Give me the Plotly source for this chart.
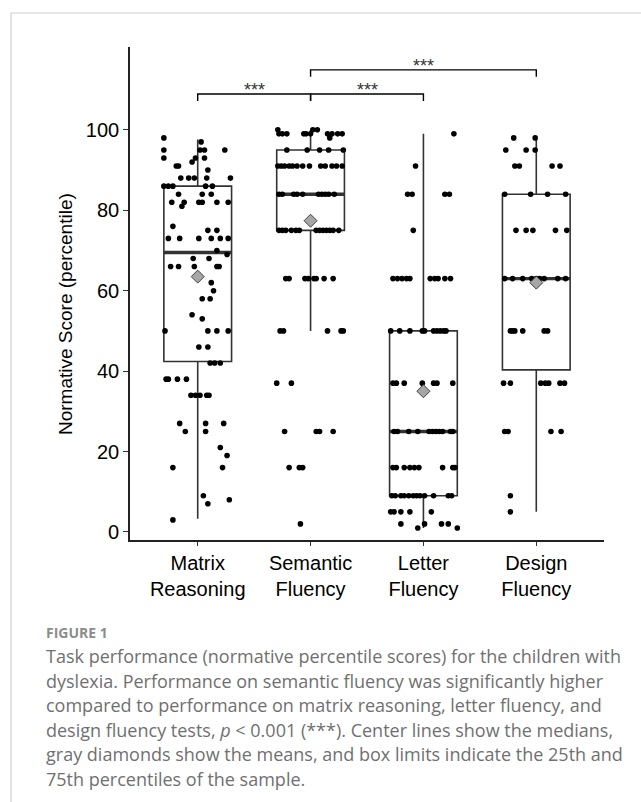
import plotly.graph_objects as go

# ---------------- data ----------------
tasks = ["Matrix<br>Reasoning", "Semantic<br>Fluency", "Letter<br>Fluency", "Design<br>Fluency"]

matrix_scores = [98, 97, 95, 95, 95, 95, 93, 93, 92, 93, 91, 91, 90, 88, 88, 88, 88, 88,
                 86, 86, 86, 86, 86, 84, 84, 84, 82, 81, 82, 82, 82, 82, 82, 76, 75, 75,
                 73, 73, 73, 73, 73, 73, 70, 69, 68, 68, 66, 66, 66, 66, 66, 62, 60, 58,
                 58, 54, 53, 50, 50, 50, 50, 46, 46, 42, 42, 42, 38, 38, 38, 38, 34, 34,
                 34, 34, 34, 27, 27, 27, 25, 25, 21, 19, 16, 16, 9, 8, 7, 3]
matrix_jitter = [-0.30, 0.03, -0.30, 0.02, 0.06, 0.24, -0.30, -0.02, -0.05, 0.06, -0.19, -0.17,
                 0.09, -0.15, -0.08, -0.03, 0.08, 0.29, -0.30, -0.26, -0.22, 0.07, 0.13, -0.17,
                 0.04, 0.12, -0.23, -0.14, -0.12, 0.01, 0.04, 0.17, 0.27, -0.22, 0.09, 0.17,
                 -0.26, -0.16, 0.01, 0.12, 0.20, 0.27, 0.17, 0.26, -0.04, 0.10, -0.24, -0.17,
                 -0.03, 0.17, 0.19, 0.12, 0.14, 0.04, 0.11, -0.05, 0.04, -0.29, 0.09, 0.17,
                 0.27, 0.01, 0.09, 0.11, 0.15, 0.20, -0.28, -0.26, -0.18, -0.10, -0.06, -0.02,
                 0.02, 0.08, 0.10, -0.16, 0.07, 0.23, -0.11, 0.07, 0.20, 0.26, -0.22, 0.22,
                 0.05, 0.28, 0.09, -0.22]

semantic_scores = ([100, 99, 99, 99, 99, 99, 99, 100, 100, 99, 98, 99, 99, 99]
                   + [95] * 5 + [91] * 13 + [84] * 10 + [75] * 13 + [63] * 8
                   + [50] * 5 + [37] * 2 + [25] * 4 + [16] * 3 + [2])
semantic_jitter = ([-0.29, -0.28, -0.25, -0.21, -0.06, -0.04, 0.00, 0.02, 0.06, 0.15, 0.17, 0.19, 0.24, 0.28]
                   + [-0.21, -0.03, 0.08, 0.16, 0.29]
                   + [-0.29, -0.26, -0.23, -0.19, -0.16, -0.12, -0.07, -0.01, 0.09, 0.13, 0.19, 0.23, 0.28]
                   + [-0.28, -0.25, -0.15, -0.12, -0.07, 0.07, 0.10, 0.13, 0.16, 0.21]
                   + [-0.28, -0.25, -0.22, -0.17, -0.13, -0.10, 0.05, 0.08, 0.11, 0.14, 0.17, 0.20, 0.25]
                   + [-0.22, -0.19, -0.05, -0.02, 0.03, 0.05, 0.12, 0.20]
                   + [-0.27, -0.24, 0.15, 0.27, 0.29]
                   + [-0.30, -0.17]
                   + [-0.23, 0.05, 0.08, 0.20]
                   + [-0.19, -0.10, -0.07]
                   + [-0.09])

letter_scores = ([99, 91] + [84] * 4 + [75] + [63] * 10 + [50] * 10 + [37] * 7 + [25] * 11
                 + [16] * 9 + [9] * 12 + [5] * 5 + [2] * 4 + [1] * 2)
letter_jitter = ([0.27, -0.07]
                 + [-0.14, -0.10, 0.19, 0.23]
                 + [-0.09]
                 + [-0.27, -0.23, -0.19, -0.15, -0.12, 0.06, 0.10, 0.13, 0.19, 0.24]
                 + [-0.29, -0.21, -0.12, -0.01, 0.01, 0.09, 0.12, 0.15, 0.18, 0.20]
                 + [-0.27, -0.24, -0.17, -0.01, 0.09, 0.12, 0.26]
                 + [-0.26, -0.23, -0.13, -0.05, 0.05, 0.08, 0.11, 0.14, 0.17, 0.24, 0.26]
                 + [-0.27, -0.24, -0.17, -0.12, -0.08, -0.04, 0.17, 0.26, 0.28]
                 + [-0.28, -0.25, -0.20, -0.17, -0.13, -0.09, -0.06, -0.03, 0.01, 0.09, 0.22, 0.25]
                 + [-0.29, -0.26, -0.20, -0.12, 0.07]
                 + [-0.20, 0.01, 0.16, 0.22]
                 + [-0.05, 0.30])

design_scores = ([98] * 2 + [95] * 3 + [91] * 4 + [84] * 4 + [75] * 5 + [63] * 9 + [50] * 6
                 + [37] * 7 + [25] * 4 + [9] + [5])
design_jitter = ([-0.20, -0.01]
                 + [-0.27, -0.09, -0.01]
                 + [-0.19, -0.15, 0.14, 0.21]
                 + [-0.28, -0.05, 0.10, 0.26]
                 + [-0.18, -0.09, -0.03, 0.17, 0.27]
                 + [-0.28, -0.21, -0.12, -0.04, 0.00, 0.03, 0.07, 0.19, 0.26]
                 + [-0.23, -0.21, -0.19, -0.12, 0.07, 0.10]
                 + [-0.29, -0.23, 0.04, 0.08, 0.11, 0.21, 0.25]
                 + [-0.28, -0.25, 0.13, 0.22]
                 + [-0.23]
                 + [-0.23])

q1s = [42.4, 75, 9, 40.3]
medians = [69.5, 84, 25, 63]
q3s = [86, 95, 50, 84]
lower_whiskers = [3.3, 50, 1, 5]
upper_whiskers = [97.6, 100, 99, 98]
means = [63.5, 77.4, 35.0, 62.0]

comparisons = [(1, 2), (2, 3), (2, 4)]
comparison_labels = ["***", "***", "***"]
bracket_heights = [108.9, 108.9, 114.9]

y_ticks = [0, 20, 40, 60, 80, 100]

caption_head = "FIGURE 1"
caption_lines = [
    "Task performance (normative percentile scores) for the children with",
    "dyslexia. Performance on semantic fluency was significantly higher",
    "compared to performance on matrix reasoning, letter fluency, and",
    "design fluency tests, <i>p</i> < 0.001 (***). Center lines show the medians,",
    "gray diamonds show the means, and box limits indicate the 25th and",
    "75th percentiles of the sample.",
]

# ---------------- figure ----------------
W, H = 641, 802
ML, MR, MT, MB = 130, 37, 47, 262
PW, PH = W - ML - MR, H - MT - MB


def px_x(p):
    return (p - ML) / PW


def px_y(p):
    return (H - MB - p) / PH


BOX_W = 0.6
LINE_C = "#333333"
positions = [1, 2, 3, 4]

fig = go.Figure()

# boxes
for i, pos in enumerate(positions):
    fig.add_trace(go.Box(
        x=[pos], q1=[q1s[i]], median=[medians[i]], q3=[q3s[i]],
        lowerfence=[lower_whiskers[i]], upperfence=[upper_whiskers[i]],
        width=BOX_W, whiskerwidth=0, fillcolor="white",
        line=dict(color=LINE_C, width=1.6), boxpoints=False,
        showlegend=False, hoverinfo="skip",
    ))

# thicker median lines
mx, my = [], []
for i, pos in enumerate(positions):
    mx += [pos - BOX_W / 2, pos + BOX_W / 2, None]
    my += [medians[i], medians[i], None]
fig.add_trace(go.Scatter(x=mx, y=my, mode="lines",
                         line=dict(color=LINE_C, width=3.4),
                         showlegend=False, hoverinfo="skip"))

# jittered points
groups = [(matrix_scores, matrix_jitter), (semantic_scores, semantic_jitter),
          (letter_scores, letter_jitter), (design_scores, design_jitter)]
for pos, (vals, jit) in zip(positions, groups):
    fig.add_trace(go.Scatter(
        x=[pos + j for j in jit], y=vals, mode="markers",
        marker=dict(color="black", size=5.6, line=dict(width=0)),
        showlegend=False, hoverinfo="skip"))

# means
fig.add_trace(go.Scatter(
    x=positions, y=means, mode="markers",
    marker=dict(symbol="diamond", size=10, color="#a6a6a6",
                line=dict(color="#404040", width=1)),
    showlegend=False, hoverinfo="skip"))

# significance brackets
TICK_DROP = 1.7
for (a, b), lab, h in zip(comparisons, comparison_labels, bracket_heights):
    fig.add_trace(go.Scatter(
        x=[a, a, b, b], y=[h - TICK_DROP, h, h, h - TICK_DROP], mode="lines",
        line=dict(color="black", width=1.4), showlegend=False, hoverinfo="skip"))
    fig.add_annotation(x=(a + b) / 2, y=h, text=lab, showarrow=False,
                       xanchor="center", yanchor="bottom", yshift=-8,
                       font=dict(family="Liberation Sans, Arial", size=18, color="#333333"))

fig.update_layout(
    width=W, height=H, autosize=False,
    margin=dict(l=ML, r=MR, t=MT, b=MB, pad=0),
    paper_bgcolor="white", plot_bgcolor="white",
    font=dict(family="Liberation Sans, Arial, sans-serif", color="black"),
    showlegend=False,
    xaxis=dict(range=[0.4, 4.6], tickvals=positions, ticktext=tasks,
               showgrid=False, zeroline=False, showline=True, linecolor="#222222",
               linewidth=1.6, ticks="outside", ticklen=4, tickwidth=1.2,
               tickcolor="#333333", tickfont=dict(size=20, color="black")),
    yaxis=dict(range=[-2, 120.6], tickvals=y_ticks, showgrid=False, zeroline=False,
               showline=True, linecolor="#222222", linewidth=1.6, ticks="outside",
               ticklen=5, tickwidth=1.2, tickcolor="#333333",
               tickfont=dict(size=20, color="black")),
)

# y-axis title
fig.add_annotation(xref="paper", yref="paper", x=px_x(65), y=px_y(314),
                   text="Normative Score (percentile)", textangle=-90, showarrow=False,
                   xanchor="center", yanchor="middle",
                   font=dict(family="Liberation Sans, Arial", size=19, color="black"))

# caption
fig.add_annotation(xref="paper", yref="paper", x=px_x(44), y=px_y(632),
                   text="<b>" + caption_head + "</b>", showarrow=False,
                   xanchor="left", yanchor="middle",
                   font=dict(family="Open Sans", size=14, color="#8c8c8c"))
line_centers = [656, 680.5, 705, 729.5, 754, 778.5]
for txt, yc in zip(caption_lines, line_centers):
    fig.add_annotation(xref="paper", yref="paper", x=px_x(44), y=px_y(yc),
                       text=txt, showarrow=False, xanchor="left", yanchor="middle",
                       font=dict(family="Open Sans", size=18, color="#707070"))

# page frame
fig.add_shape(type="rect", xref="paper", yref="paper",
              x0=px_x(11), x1=px_x(680), y0=px_y(840), y1=px_y(13),
              line=dict(color="#cfcfcf", width=1.2), fillcolor="rgba(0,0,0,0)", layer="below")

fig.write_html("out.html")
